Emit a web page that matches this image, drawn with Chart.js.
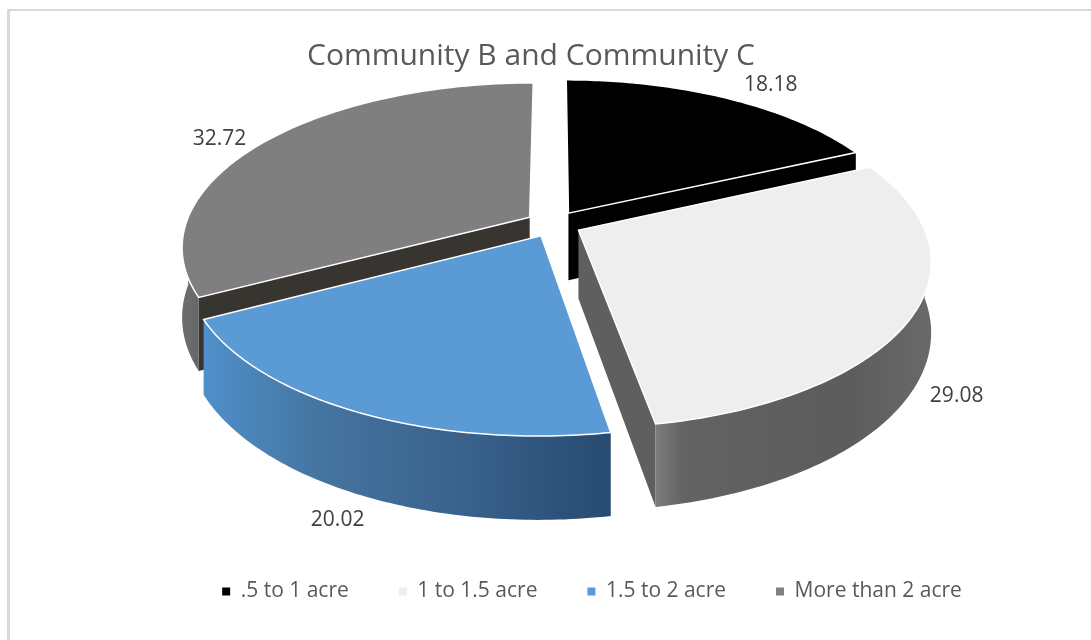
<!DOCTYPE html>
<html>
<head>
<meta charset="utf-8">
<title>Community B and Community C</title>
<script src="https://cdn.jsdelivr.net/npm/chart.js@4"></script>
<style>
  html, body { margin: 0; padding: 0; background: #fff; overflow: hidden; }
  #marco { position: absolute; left: 7px; top: 9px; right: 0; bottom: 0; border-left: 3px solid #d9d9d9; border-top: 2px solid #d9d9d9; }
  #torta { position: absolute; left: 0; top: 0; }
</style>
</head>
<body>
<div id="marco"></div>
<canvas id="torta" width="1091" height="640"></canvas>
<script>
var categorias = ['.5 to 1 acre', '1 to 1.5 acre', '1.5 to 2 acre', 'More than 2 acre'];
var valores = [18.18, 29.08, 20.02, 32.72];
var colores = ['#000000', '#eeeeee', '#5b9bd5', '#7f7f7f'];
var titulo = 'Community B and Community C';

// caras laterales de cada porcion: pared curva (gradiente) y cortes rectos
var paredes = [
  [[0, '#000000'], [1, '#000000']],
  [[0, '#7d7d7d'], [0.1, '#636363'], [0.7, '#5c5c5c'], [1, '#686868']],
  [[0, '#4f8fca'], [0.3, '#44749f'], [0.65, '#39618b'], [1, '#274a70']],
  [[0, '#6c6c6c'], [1, '#666666']]
];
var cortes = ['#000000', '#5f5f5f', '#2b4c72', '#38342f'];
// que corte se ve en cada porcion
var cortesVisibles = ['end', 'end', null, 'start'];

// orden de pintado: primero lo de atras
var ordenPintado = [0, 3, 1, 2];

// ajuste de cada etiqueta respecto del borde de su porcion
var ajusteEtiqueta = [[44, -13], [42, 83], [-18, 108], [-44, -3]];

// vista 3d
var centroX = 553.5, centroY = 224, radio = 344;
var aplastado = 0.466, fuga = 0.176, alto = 68;

function proyectar(px, py, caida) {
  var s = 1 / (1 - fuga * py / radio);
  return {
    x: centroX + px * s,
    y: centroY + aplastado * py * s + (caida ? alto * s : 0)
  };
}

function puntoPorcion(arco, ang, r, caida) {
  var medio = (arco.startAngle + arco.endAngle) / 2;
  var d = arco.options.offset;
  return proyectar(
    Math.cos(medio) * d + Math.cos(ang) * r,
    Math.sin(medio) * d + Math.sin(ang) * r,
    caida
  );
}

function trazarBorde(ctx, arco, desde, hasta, caida) {
  var pasos = 80;
  for (var i = 0; i <= pasos; i++) {
    var ang = desde + (hasta - desde) * i / pasos;
    var p = puntoPorcion(arco, ang, arco.outerRadius, caida);
    ctx.lineTo(p.x, p.y);
  }
}

function paredRecta(ctx, arco, ang, color) {
  var a = puntoPorcion(arco, ang, 0, false);
  var b = puntoPorcion(arco, ang, arco.outerRadius, false);
  var c = puntoPorcion(arco, ang, arco.outerRadius, true);
  var d = puntoPorcion(arco, ang, 0, true);
  ctx.beginPath();
  ctx.moveTo(a.x, a.y);
  ctx.lineTo(b.x, b.y);
  ctx.lineTo(c.x, c.y);
  ctx.lineTo(d.x, d.y);
  ctx.closePath();
  ctx.fillStyle = color;
  ctx.fill();
}

function pintarPorcion(ctx, arco, i) {
  // cortes rectos
  if (cortesVisibles[i] == 'start') {
    paredRecta(ctx, arco, arco.startAngle, cortes[i]);
  }
  if (cortesVisibles[i] == 'end') {
    paredRecta(ctx, arco, arco.endAngle, cortes[i]);
  }

  // pared curva, solo la mitad de adelante
  var a0 = Math.max(arco.startAngle, 0);
  var a1 = Math.min(arco.endAngle, Math.PI);
  if (a1 > a0) {
    var izq = puntoPorcion(arco, Math.max(a0, Math.min(a1, Math.PI)), arco.outerRadius, false).x;
    var der = puntoPorcion(arco, a0, arco.outerRadius, false).x;
    var grad = ctx.createLinearGradient(izq, 0, der, 0);
    var tramos = paredes[i];
    for (var t = 0; t < tramos.length; t++) {
      grad.addColorStop(tramos[t][0], tramos[t][1]);
    }
    ctx.beginPath();
    trazarBorde(ctx, arco, a0, a1, false);
    trazarBorde(ctx, arco, a1, a0, true);
    ctx.closePath();
    ctx.fillStyle = grad;
    ctx.fill();
  }

  // cara de arriba
  var centro = puntoPorcion(arco, 0, 0, false);
  ctx.beginPath();
  ctx.moveTo(centro.x, centro.y);
  trazarBorde(ctx, arco, arco.startAngle, arco.endAngle, false);
  ctx.closePath();
  ctx.fillStyle = arco.options.backgroundColor;
  ctx.fill();
  ctx.strokeStyle = '#ffffff';
  ctx.lineWidth = 1.5;
  ctx.stroke();
}

var tresD = {
  id: 'tresD',
  afterLayout: function (chart) {
    // titulo centrado sobre la torta y no sobre la leyenda
    chart.titleBlock.left -= 61;
    chart.titleBlock.right -= 61;
  },
  beforeDatasetDraw: function (chart) {
    var ctx = chart.ctx;
    var arcos = chart.getDatasetMeta(0).data;
    ctx.save();
    ordenPintado.forEach(function (i) {
      pintarPorcion(ctx, arcos[i], i);
    });
    ctx.restore();
    return false;
  },
  afterDatasetsDraw: function (chart) {
    var ctx = chart.ctx;
    var arcos = chart.getDatasetMeta(0).data;
    ctx.save();
    ctx.font = '21px "Open Sans"';
    ctx.fillStyle = '#404040';
    ctx.textAlign = 'center';
    ctx.textBaseline = 'middle';
    arcos.forEach(function (arco, i) {
      var medio = (arco.startAngle + arco.endAngle) / 2;
      var p = puntoPorcion(arco, medio, arco.outerRadius, false);
      ctx.fillText(valores[i].toFixed(2), p.x + ajusteEtiqueta[i][0], p.y + ajusteEtiqueta[i][1]);
    });
    ctx.restore();
  }
};

var grafico = new Chart(document.getElementById('torta').getContext('2d'), {
  type: 'pie',
  data: {
    labels: categorias,
    datasets: [{
      data: valores,
      backgroundColor: colores,
      borderWidth: 0,
      offset: 28,
      radius: radio
    }]
  },
  options: {
    responsive: false,
    animation: false,
    layout: { padding: { left: 93, top: 38, bottom: 28 } },
    plugins: {
      tooltip: { enabled: false },
      title: {
        display: true,
        text: titulo,
        color: '#595959',
        font: { family: '"Open Sans"', size: 30, weight: 'normal' },
        padding: { top: 0, bottom: 0 }
      },
      legend: {
        position: 'bottom',
        labels: {
          usePointStyle: true,
          pointStyle: 'rect',
          boxWidth: 8,
          boxHeight: 8,
          padding: 50,
          color: '#595959',
          font: { family: '"Open Sans"', size: 21 }
        }
      }
    }
  },
  plugins: [tresD]
});
</script>
</body>
</html>
